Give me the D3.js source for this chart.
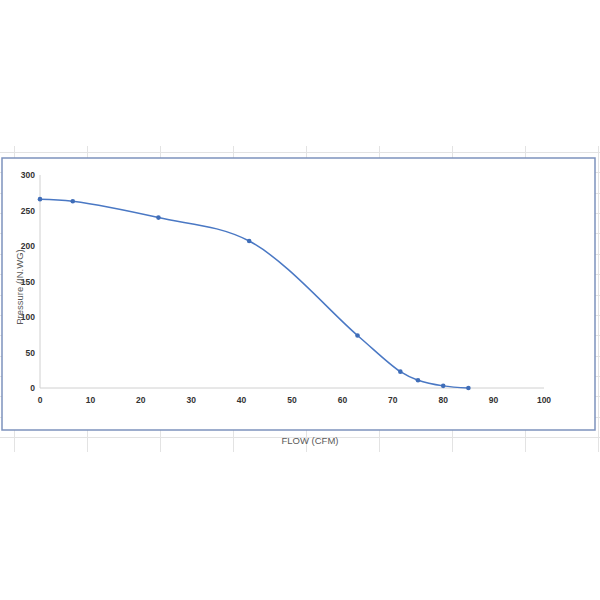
<!DOCTYPE html>
<html>
<head>
<meta charset="utf-8">
<script src="https://cdn.jsdelivr.net/npm/d3@7"></script>
<style>
  body { margin: 0; background: #fff; }
  svg { display: block; }
  .tick-label { font-family: "Liberation Sans", Arial, sans-serif; font-size: 8.5px; font-weight: bold; fill: #333; }
  .title { font-family: "Liberation Sans", Arial, sans-serif; font-size: 9.5px; fill: #595959; }
</style>
</head>
<body>
<div id="chart"></div>
<script>
// Fan curve data
var flow = [0, 6.5, 23.5, 41.5, 63, 71.5, 75, 80, 85];
var pressure = [266, 263, 240, 207, 74, 23, 11, 3, 0];
var xTicks = [0, 10, 20, 30, 40, 50, 60, 70, 80, 90, 100];
var yTicks = [0, 50, 100, 150, 200, 250, 300];

var width = 600, height = 600;

var svg = d3.select("#chart")
  .append("svg")
  .attr("width", width)
  .attr("height", height);

// Spreadsheet cell grid behind the chart object
var grid = svg.append("g").attr("stroke", "#e3e3e3").attr("stroke-width", 1);
d3.range(14, 600, 73).forEach(function(x) {
  grid.append("line").attr("x1", x + 0.5).attr("x2", x + 0.5).attr("y1", 146).attr("y2", 452);
});
d3.range(0, 15).forEach(function(k) {
  var y = Math.round(152 + k * 20.36) + 0.5;
  grid.append("line").attr("x1", 0).attr("x2", 600).attr("y1", y).attr("y2", y);
});

// Chart box
svg.append("rect")
  .attr("x", 2).attr("y", 158)
  .attr("width", 593).attr("height", 272)
  .attr("fill", "#fff")
  .attr("stroke", "#7d92bd")
  .attr("stroke-width", 1.5);

// Scales
var x = d3.scaleLinear().domain([0, 100]).range([40, 544]);
var y = d3.scaleLinear().domain([0, 300]).range([388, 175]);

// Axis lines
svg.append("line")
  .attr("x1", x(0)).attr("x2", x(0)).attr("y1", y(300)).attr("y2", y(0))
  .attr("stroke", "#d0d0d0").attr("stroke-width", 1);
svg.append("line")
  .attr("x1", x(0)).attr("x2", x(100)).attr("y1", y(0)).attr("y2", y(0))
  .attr("stroke", "#d0d0d0").attr("stroke-width", 1);

// Tick labels
svg.selectAll(".xl")
  .data(xTicks)
  .enter()
  .append("text")
  .attr("class", "tick-label")
  .attr("x", function(d) { return x(d); })
  .attr("y", y(0) + 15)
  .attr("text-anchor", "middle")
  .text(function(d) { return d; });

svg.selectAll(".yl")
  .data(yTicks)
  .enter()
  .append("text")
  .attr("class", "tick-label")
  .attr("x", x(0) - 5)
  .attr("y", function(d) { return y(d) + 3; })
  .attr("text-anchor", "end")
  .text(function(d) { return d; });

// Axis titles
svg.append("text")
  .attr("class", "title")
  .attr("transform", "translate(23,287) rotate(-90)")
  .attr("text-anchor", "middle")
  .text("Pressure (IN.WG)");

svg.append("text")
  .attr("class", "title")
  .attr("x", 310)
  .attr("y", 444)
  .attr("text-anchor", "middle")
  .text("FLOW (CFM)");

// Smoothed curve and markers
var pts = flow.map(function(f, i) { return [f, pressure[i]]; });
var line = d3.line()
  .x(function(d) { return x(d[0]); })
  .y(function(d) { return y(d[1]); })
  .curve(d3.curveCatmullRom.alpha(0.5));

svg.append("path")
  .datum(pts)
  .attr("d", line)
  .attr("fill", "none")
  .attr("stroke", "#4a78c4")
  .attr("stroke-width", 1.5);

svg.selectAll(".dot")
  .data(pts)
  .enter()
  .append("circle")
  .attr("class", "dot")
  .attr("cx", function(d) { return x(d[0]); })
  .attr("cy", function(d) { return y(d[1]); })
  .attr("r", 2.3)
  .attr("fill", "#3f6db8");
</script>
</body>
</html>
